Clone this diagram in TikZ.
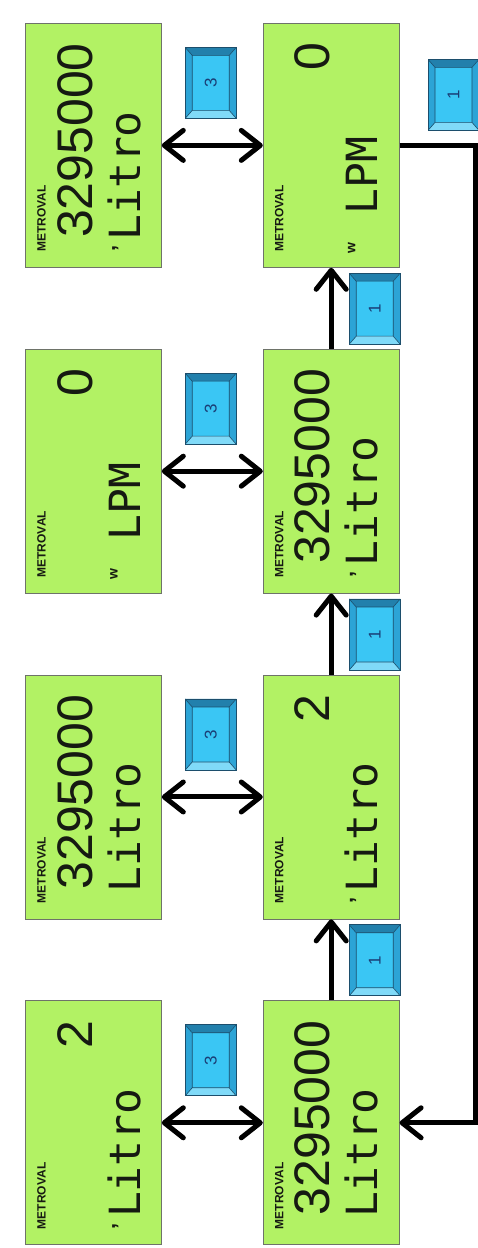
\documentclass[tikz,border=0pt]{standalone}
\usepackage{fontspec}
\setsansfont{Liberation Sans}
\newfontfamily\lcdfont{DejaVu Sans Mono}
\newfontfamily\lcddigits{Liberation Sans}
\usepackage{xcolor}
\usetikzlibrary{positioning, arrows.meta}

\definecolor{lcdgreen}{RGB}{178,242,100}
\definecolor{lcdedge}{RGB}{110,115,105}
\definecolor{lcdink}{RGB}{22,26,18}
\definecolor{keyface}{RGB}{58,198,244}
\definecolor{keyedge}{RGB}{28,78,108}
\definecolor{keytop}{RGB}{34,128,172}
\definecolor{keyside}{RGB}{44,164,214}
\definecolor{keybottom}{RGB}{128,218,248}
\definecolor{keyink}{RGB}{26,62,118}

\begin{document}
\begin{tikzpicture}[
  lcd/.style={draw=lcdedge, line width=0.8pt, fill=lcdgreen, minimum width=136pt, minimum height=244pt, inner sep=0pt},
  brand/.style={rotate=90, anchor=north west, inner sep=0pt, font=\sffamily\bfseries\fontsize{12}{12}\selectfont, text=lcdink},
  reading/.style={rotate=90, anchor=north east, inner sep=0pt, font=\lcddigits\fontsize{50}{50}\selectfont, text=lcdink},
  lcdunit/.style={rotate=90, anchor=base west, inner sep=0pt, font=\lcdfont\fontsize{43}{43}\selectfont, text=lcdink},
  lcdmark/.style={rotate=90, anchor=north west, inner sep=0pt, font=\sffamily\bfseries\fontsize{14}{14}\selectfont, text=lcdink},
  keycap/.style={draw=keyedge, line width=0.8pt, fill=keyface, minimum width=51pt, minimum height=71pt, inner sep=0pt,
    path picture={
      \coordinate (ko1) at (path picture bounding box.north west);
      \coordinate (ko2) at (path picture bounding box.north east);
      \coordinate (ko3) at (path picture bounding box.south east);
      \coordinate (ko4) at (path picture bounding box.south west);
      \coordinate (ki1) at ([shift={(7pt,-8pt)}]ko1);
      \coordinate (ki2) at ([shift={(-7pt,-8pt)}]ko2);
      \coordinate (ki3) at ([shift={(-7pt,8pt)}]ko3);
      \coordinate (ki4) at ([shift={(7pt,8pt)}]ko4);
      \fill[keytop] (ko1) -- (ko2) -- (ki2) -- (ki1) -- cycle;
      \fill[keyside] (ko2) -- (ko3) -- (ki3) -- (ki2) -- cycle;
      \fill[keybottom] (ko3) -- (ko4) -- (ki4) -- (ki3) -- cycle;
      \fill[keyside] (ko4) -- (ko1) -- (ki1) -- (ki4) -- cycle;
      \draw[keyedge, line width=0.6pt] (ki1) rectangle (ki3) (ko1) -- (ki1) (ko2) -- (ki2) (ko3) -- (ki3) (ko4) -- (ki4);
    }},
  keynum/.style={rotate=90, font=\sffamily\fontsize{17}{17}\selectfont, text=keyink},
  flow/.style={line width=5pt, draw=black, arrows={-Straight Barb[length=19pt, width=30pt, round]}},
  twoway/.style={flow, arrows={Straight Barb[length=19pt, width=30pt, round]-Straight Barb[length=19pt, width=30pt, round]}}
]
  \useasboundingbox[fill=white] (0,0) rectangle (478pt,1248pt);

  % Displays
  \node[lcd, anchor=north west] (l1) at (25pt,1225pt) {};
  \node[lcd, right=101pt of l1] (r1) {};
  \node[lcd, below=81pt of l1] (l2) {};
  \node[lcd, right=101pt of l2] (r2) {};
  \node[lcd, below=81pt of l2] (l3) {};
  \node[lcd, right=101pt of l3] (r3) {};
  \node[lcd, below=81pt of l3] (l4) {};
  \node[lcd, right=101pt of l4] (r4) {};

  % Row 1 readings
  \node[brand] (l1b) at ([shift={(12pt,16pt)}]l1.south west) {METROVAL};
  \node[reading] (l1n) at ([shift={(32pt,-20pt)}]l1.north west) {3295000};
  \node[lcdunit] (l1u) at ([shift={(115pt,27pt)}]l1.south west) {Litro};
  \node[lcdmark] (l1m) at ([shift={(87pt,16pt)}]l1.south west) {\fontsize{22}{22}\selectfont'};
  \node[brand] (r1b) at ([shift={(12pt,16pt)}]r1.south west) {METROVAL};
  \node[reading] (r1n) at ([shift={(32pt,-20pt)}]r1.north west) {0};
  \node[lcdunit] (r1u) at ([shift={(115pt,27pt)}]r1.south west) {\phantom{L}LPM};
  \node[lcdmark] (r1m) at ([shift={(85pt,14pt)}]r1.south west) {w};

  % Row 2 readings
  \node[brand] (l2b) at ([shift={(12pt,16pt)}]l2.south west) {METROVAL};
  \node[reading] (l2n) at ([shift={(32pt,-20pt)}]l2.north west) {0};
  \node[lcdunit] (l2u) at ([shift={(115pt,27pt)}]l2.south west) {\phantom{L}LPM};
  \node[lcdmark] (l2m) at ([shift={(85pt,14pt)}]l2.south west) {w};
  \node[brand] (r2b) at ([shift={(12pt,16pt)}]r2.south west) {METROVAL};
  \node[reading] (r2n) at ([shift={(32pt,-20pt)}]r2.north west) {3295000};
  \node[lcdunit] (r2u) at ([shift={(115pt,27pt)}]r2.south west) {Litro};
  \node[lcdmark] (r2m) at ([shift={(87pt,16pt)}]r2.south west) {\fontsize{22}{22}\selectfont'};

  % Row 3 readings
  \node[brand] (l3b) at ([shift={(12pt,16pt)}]l3.south west) {METROVAL};
  \node[reading] (l3n) at ([shift={(32pt,-20pt)}]l3.north west) {3295000};
  \node[lcdunit] (l3u) at ([shift={(115pt,27pt)}]l3.south west) {Litro};
  \node[brand] (r3b) at ([shift={(12pt,16pt)}]r3.south west) {METROVAL};
  \node[reading] (r3n) at ([shift={(32pt,-20pt)}]r3.north west) {2};
  \node[lcdunit] (r3u) at ([shift={(115pt,27pt)}]r3.south west) {Litro};
  \node[lcdmark] (r3m) at ([shift={(87pt,16pt)}]r3.south west) {\fontsize{22}{22}\selectfont'};

  % Row 4 readings
  \node[brand] (l4b) at ([shift={(12pt,16pt)}]l4.south west) {METROVAL};
  \node[reading] (l4n) at ([shift={(32pt,-20pt)}]l4.north west) {2};
  \node[lcdunit] (l4u) at ([shift={(115pt,27pt)}]l4.south west) {Litro};
  \node[lcdmark] (l4m) at ([shift={(87pt,16pt)}]l4.south west) {\fontsize{22}{22}\selectfont'};
  \node[brand] (r4b) at ([shift={(12pt,16pt)}]r4.south west) {METROVAL};
  \node[reading] (r4n) at ([shift={(32pt,-20pt)}]r4.north west) {3295000};
  \node[lcdunit] (r4u) at ([shift={(115pt,27pt)}]r4.south west) {Litro};

  % Keys 3
  \node[keycap, anchor=north west, label={[keynum]center:3}] (k3r1) at ([shift={(23pt,-24pt)}]l1.north east) {};
  \node[keycap, anchor=north west, label={[keynum]center:3}] (k3r2) at ([shift={(23pt,-24pt)}]l2.north east) {};
  \node[keycap, anchor=north west, label={[keynum]center:3}] (k3r3) at ([shift={(23pt,-24pt)}]l3.north east) {};
  \node[keycap, anchor=north west, label={[keynum]center:3}] (k3r4) at ([shift={(23pt,-24pt)}]l4.north east) {};

  % Keys 1
  \node[keycap, anchor=north east, label={[keynum]center:1}] (k1r1) at ([shift={(1pt,-5pt)}]r1.south east) {};
  \node[keycap, anchor=north east, label={[keynum]center:1}] (k1r2) at ([shift={(1pt,-5pt)}]r2.south east) {};
  \node[keycap, anchor=north east, label={[keynum]center:1}] (k1r3) at ([shift={(1pt,-5pt)}]r3.south east) {};
  \node[keycap, anchor=north west, label={[keynum]center:1}] (k1top) at ([shift={(28pt,-36pt)}]r1.north east) {};

  % Arrows
  \draw[twoway] (l1) -- (r1);
  \draw[twoway] (l2) -- (r2);
  \draw[twoway] (l3) -- (r3);
  \draw[twoway] (l4) -- (r4);
  \draw[flow] (r4) -- (r3);
  \draw[flow] (r3) -- (r2);
  \draw[flow] (r2) -- (r1);
  \coordinate[right=76pt of r1.east] (loopc);
  \draw[flow] (r1.east) -- (loopc) |- (r4.east);

\end{tikzpicture}
\end{document}
